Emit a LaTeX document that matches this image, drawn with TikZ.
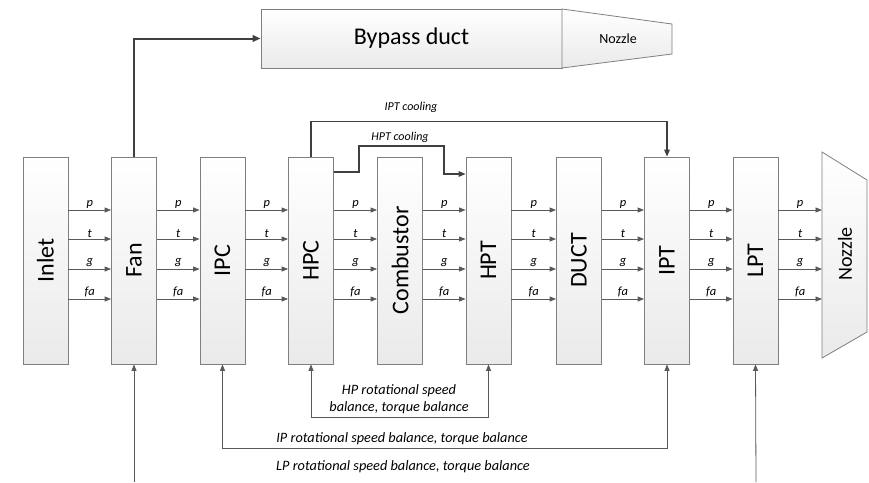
\documentclass[tikz,border=0pt]{standalone}
\usepackage{fontspec}
\setmainfont{Carlito}
\usetikzlibrary{arrows.meta}
\definecolor{bordergray}{HTML}{7F7F7F}
\definecolor{boxgray}{HTML}{EAEAEA}
\definecolor{linegray}{HTML}{595959}
\definecolor{darkline}{HTML}{404040}
\begin{document}
\begin{tikzpicture}[x=1pt,y=-1pt,
  blk/.style={draw=bordergray, line width=0.8pt, top color=white, bottom color=boxgray,
    minimum width=45pt, minimum height=207pt, inner sep=0pt},
  blklabel/.style={rotate=90, font=\fontsize{24}{24}\selectfont},
  flow/.style={draw=linegray, line width=0.8pt, -{Triangle[length=6.5pt,width=5pt]}},
  flowlbl/.style={above, inner sep=1.5pt, font=\itshape\fontsize{12.5}{12.5}\selectfont},
  cool/.style={draw=darkline, line width=1.3pt, -{Triangle[length=7pt,width=5.5pt]}},
  bypassarrow/.style={draw=darkline, line width=2pt, -{Triangle[length=8pt,width=6.5pt]}},
  spd/.style={draw=linegray, line width=0.8pt, -{Triangle[length=6.5pt,width=5pt]}},
  spdboth/.style={draw=linegray, line width=0.8pt, {Triangle[length=6.5pt,width=5pt]}-{Triangle[length=6.5pt,width=5pt]}},
  note/.style={font=\itshape\fontsize{14.3}{17}\selectfont, align=center, inner sep=0pt},
  coolnote/.style={font=\itshape\fontsize{12}{12}\selectfont, inner sep=0pt}]
\useasboundingbox (0,0) rectangle (869,482);
\fill[white] (0,0) rectangle (869,482);

% main blocks
\node[blk, label={[blklabel]center:Inlet}] (inlet) at (45.5,260.5) {};
\node[blk, label={[blklabel]center:Fan}] (fan) at (134,260.5) {};
\node[blk, label={[blklabel]center:IPC}] (ipc) at (222.5,260.5) {};
\node[blk, label={[blklabel]center:HPC}] (hpc) at (311,260.5) {};
\node[blk, label={[blklabel]center:Combustor}] (comb) at (400,260.5) {};
\node[blk, label={[blklabel]center:HPT}] (hpt) at (488.5,260.5) {};
\node[blk, label={[blklabel]center:DUCT}] (duct) at (579,260.5) {};
\node[blk, label={[blklabel]center:IPT}] (ipt) at (667,260.5) {};
\node[blk, label={[blklabel]center:LPT}] (lpt) at (755.5,260.5) {};

% core nozzle
\path[draw=bordergray, line width=0.8pt, top color=white, bottom color=boxgray]
  (822,152) -- (867,180) -- (867,332) -- (822,358) -- cycle;
\coordinate (nzl) at (822,260.5);
\node[blklabel, font=\fontsize{20}{20}\selectfont] (nzltext) at (845,254) {Nozzle};

% bypass duct and its nozzle
\node[draw=bordergray, line width=0.8pt, top color=white, bottom color=boxgray,
  minimum width=301pt, minimum height=59pt, inner sep=0pt,
  font=\fontsize{24}{24}\selectfont] (bypass) at (411.5,38.5) {Bypass duct};
\path[draw=bordergray, line width=0.8pt, top color=white, bottom color=boxgray]
  (562,9) -- (672,24) -- (672,54) -- (562,68) -- cycle;
\node[font=\fontsize{14}{14}\selectfont] (bnzl) at (618,39) {Nozzle};

% flow rows
\coordinate (rp) at (0,210);
\coordinate (rt) at (0,239);
\coordinate (rg) at (0,269);
\coordinate (rf) at (0,299);
\foreach \a/\b in {inlet/fan, fan/ipc, ipc/hpc, hpc/comb, comb/hpt, hpt/duct, duct/ipt, ipt/lpt, lpt/nzl}{
  \draw[flow] (\a.east |- rp) -- node[flowlbl]{p} (\b.west |- rp);
  \draw[flow] (\a.east |- rt) -- node[flowlbl]{t} (\b.west |- rt);
  \draw[flow] (\a.east |- rg) -- node[flowlbl]{g} (\b.west |- rg);
  \draw[flow] (\a.east |- rf) -- node[flowlbl]{fa} (\b.west |- rf);
}

% bypass flow
\draw[bypassarrow] (fan.north) |- (bypass.west);

% cooling
\draw[cool] (hpc.north) -- ++(0,-35) -| (ipt.north);
\node[coolnote] (iptc) at (411,107) {IPT cooling};
\draw[cool] (hpc.east |- 0,172) -| (359,146) -| (444,174) -- (hpt.west |- 0,174);
\node[coolnote] (hptc) at (400,137) {HPT cooling};

% shafts
\draw[spdboth] (hpc.south) -- ++(0,53) -| (hpt.south);
\node[note] (hpn) at (399,399) {HP rotational speed\\balance, torque balance};
\draw[spdboth] (ipc.south) -- ++(0,84) -| (ipt.south);
\node[note] (ipn) at (402,439) {IP rotational speed balance, torque balance};
\coordinate (lpa) at (134,482);
\coordinate (lpb) at (756,482);
\draw[spd] (lpa) -- (fan.south);
\draw[spd] (lpb) -- (lpt.south);
\node[note] (lpn) at (403,467) {LP rotational speed balance, torque balance};
\end{tikzpicture}
\end{document}
